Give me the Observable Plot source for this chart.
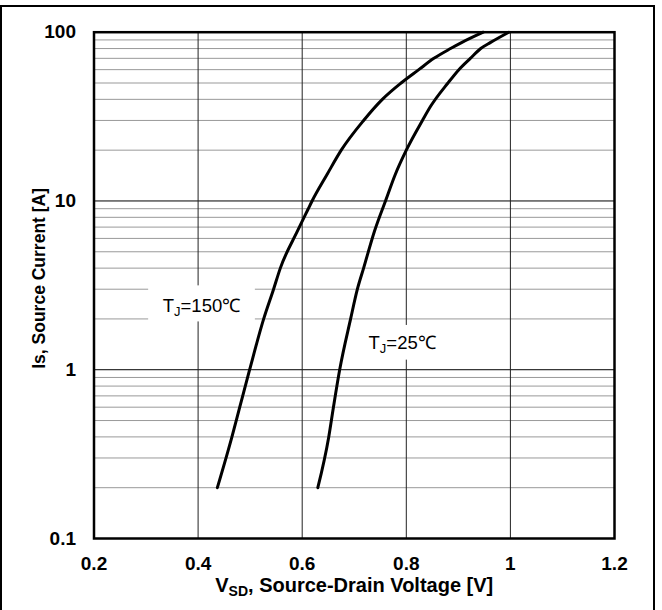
<!DOCTYPE html>
<html>
<head>
<meta charset="utf-8">
<script src="https://cdn.jsdelivr.net/npm/d3@7"></script>
<script src="https://cdn.jsdelivr.net/npm/@observablehq/plot@0.6"></script>
<style>
  html, body { margin: 0; padding: 0; background: #fff; }
  #wrap { position: relative; width: 662px; height: 610px; overflow: hidden; }
  #border { position: absolute; left: 0; top: 5px; width: 655px; height: 640px;
            border: 2.5px solid #000; box-sizing: border-box; pointer-events: none; }
</style>
</head>
<body>
<div id="wrap"><div id="border"></div></div>
<script>
// Data
const v150 = [0.437, 0.465, 0.480, 0.499, 0.526, 0.545, 0.558, 0.591, 0.611, 0.619, 0.648, 0.675, 0.718, 0.754, 0.790, 0.824, 0.853, 0.885, 0.907, 0.948];
const i150 = [0.2, 0.4, 0.6, 1, 2, 3, 4, 6.64, 8.9, 10, 14.4, 20, 30, 40, 50, 60, 70, 80, 87, 100];
const v25 = [0.630, 0.651, 0.660, 0.672, 0.693, 0.706, 0.718, 0.739, 0.760, 0.779, 0.800, 0.831, 0.847, 0.880, 0.901, 0.923, 0.943, 0.962, 0.997];
const i25 = [0.2, 0.4, 0.6, 1, 2, 3, 4, 6.64, 10, 14.4, 20, 30, 36.5, 50, 60, 70, 80, 87, 100];

const xTicks = [0.2, 0.4, 0.6, 0.8, 1.0, 1.2];
const yTicks = [0.1, 1, 10, 100];
const xMajorGrid = [0.4, 0.6, 0.8, 1.0];
const yMajorGrid = [1, 10];
const yMinorGrid = [0.2, 0.3, 0.4, 0.5, 0.6, 0.7, 0.8, 0.9, 2, 3, 4, 5, 6, 7, 8, 9, 20, 30, 40, 50, 60, 70, 80, 90];

const labelText = ["T_{J}=150℃", "T_{J}=25℃"];
const labelV = [0.4065, 0.792];
const labelI = [2.37, 1.43];
const boxV1 = [0.305, 0.716], boxV2 = [0.510, 0.870];
const boxI1 = [1.92, 1.14], boxI2 = [3.14, 1.83];

const xTitle = "V_{SD}, Source-Drain Voltage [V]";
const yTitle = "Is, Source Current [A]";

const curves = [
  ...v150.map((v, k) => ({series: "150", v, i: i150[k]})),
  ...v25.map((v, k) => ({series: "25", v, i: i25[k]}))
];
const labels = labelText.map((t, k) => ({t, v: labelV[k], i: labelI[k]}));
const boxes = boxV1.map((v1, k) => ({v1, v2: boxV2[k], i1: boxI1[k], i2: boxI2[k]}));

const font = "'Liberation Sans', Arial, Helvetica, sans-serif";

const chart = Plot.plot({
  width: 662,
  height: 610,
  marginLeft: 93.5,
  marginRight: 48,
  marginTop: 31.7,
  marginBottom: 72,
  style: {fontFamily: font, background: "#fff", color: "#000"},
  x: {domain: [0.2, 1.2], type: "linear"},
  y: {domain: [0.1, 100], type: "log"},
  marks: [
    Plot.ruleY(yMinorGrid, {stroke: "#999", strokeWidth: 1}),
    Plot.ruleY(yMajorGrid, {stroke: "#000", strokeWidth: 1}),
    Plot.ruleX(xMajorGrid, {stroke: "#222", strokeWidth: 1}),
    Plot.rect(boxes, {x1: "v1", x2: "v2", y1: "i1", y2: "i2", fill: "#fff"}),
    Plot.line(curves, {x: "v", y: "i", z: "series", stroke: "#000", strokeWidth: 3, curve: "monotone-x"}),
    Plot.text(labels, {x: "v", y: "i", text: "t", fontSize: 18.5, fill: "#000"}),
    Plot.frame({stroke: "#000", strokeWidth: 2.5}),
    Plot.axisX({ticks: xTicks, tickFormat: d => String(+d.toFixed(1)), tickSize: 0, tickPadding: 18,
                fontSize: 19, fontWeight: "bold", label: null}),
    Plot.axisY({ticks: yTicks, tickFormat: d => String(d), tickSize: 0, tickPadding: 18,
                fontSize: 19, fontWeight: "bold", label: null}),
    Plot.text([xTitle], {frameAnchor: "bottom", dy: 53, fontSize: 20, fontWeight: "bold"}),
    Plot.text([yTitle], {frameAnchor: "left", textAnchor: "middle", dx: -54.5, dy: -7, rotate: -90,
                         fontSize: 17.5, fontWeight: "bold"})
  ]
});

// Render "_{...}" as subscripts
d3.select(chart).selectAll("text").each(function() {
  const txt = this.textContent;
  if (!txt.includes("_{")) return;
  const el = d3.select(this);
  el.text(null);
  const parts = txt.split(/(_\{[^}]*\})/).filter(p => p.length);
  let shifted = false;
  parts.forEach(p => {
    const m = p.match(/^_\{([^}]*)\}$/);
    const ts = el.append("tspan");
    if (m) {
      ts.text(m[1]).attr("font-size", "70%").attr("dy", "4");
      shifted = true;
    } else {
      ts.text(p);
      if (shifted) { ts.attr("dy", "-4"); shifted = false; }
    }
  });
});

document.getElementById("wrap").prepend(chart);
</script>
</body>
</html>
